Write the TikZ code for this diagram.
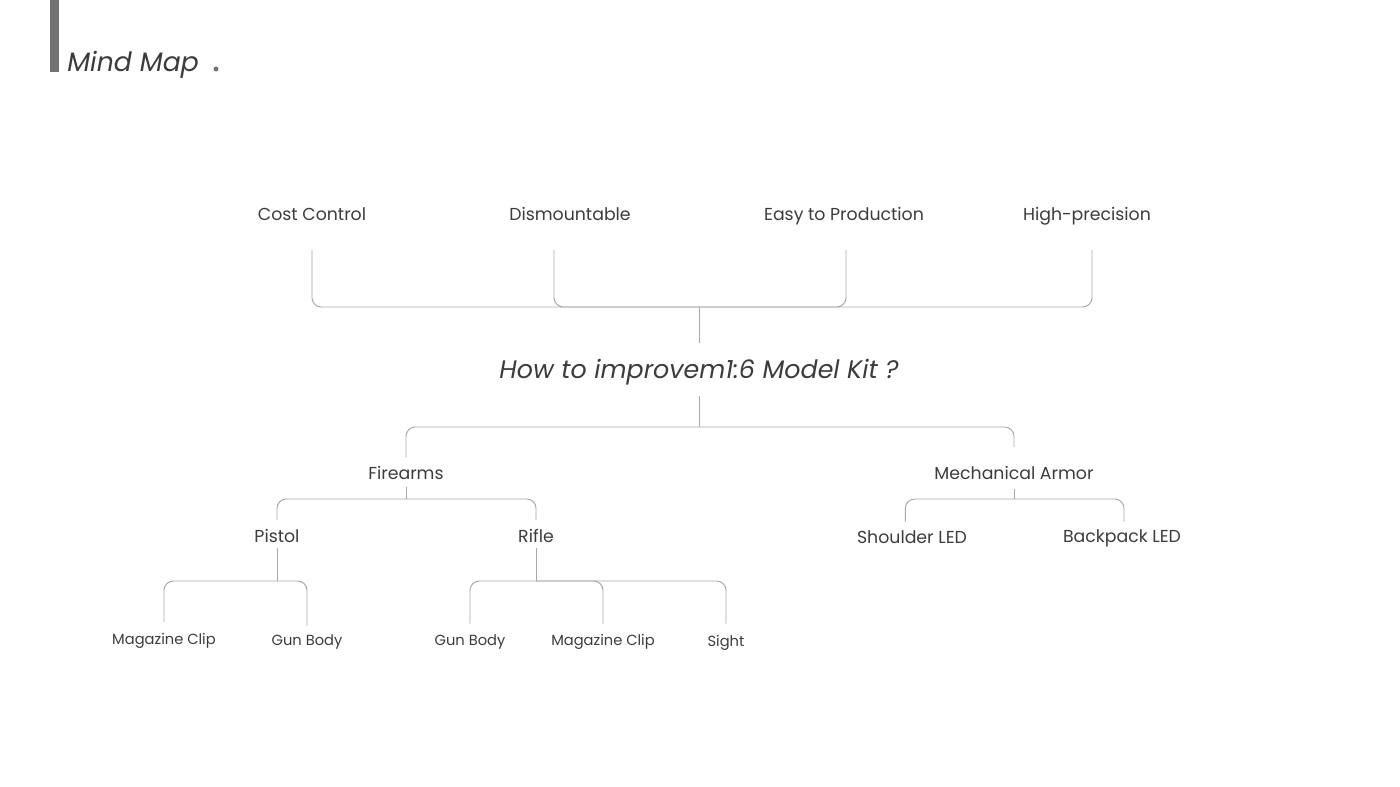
\documentclass[tikz,border=0pt]{standalone}
\usepackage{fontspec}
\setmainfont{Poppins}
\usepackage{tikz}
\usetikzlibrary{positioning}
\definecolor{txtgray}{HTML}{3C3C3C}
\definecolor{linegray}{HTML}{A8A8A8}
\definecolor{bargray}{HTML}{727272}
\tikzstyle{item} = [font=\fontsize{13}{15}\selectfont, text=txtgray, text height=12.25pt, text depth=0.75pt, inner sep=0pt]
\tikzstyle{leaf} = [item, font=\fontsize{11}{13}\selectfont, text height=11.25pt, text depth=0.75pt]
\tikzstyle{link} = [draw=linegray, line width=0.7pt, rounded corners=7pt]
\begin{document}
\begin{tikzpicture}[x=0.75pt, y=-0.75pt]
\useasboundingbox (0,0) rectangle (1400,787);
\fill[bargray] (50,0) rectangle (59,72);
\node[anchor=base west, inner sep=0pt, text=txtgray, font=\fontsize{20}{24}\selectfont\itshape] (title) at (67,72) {Mind Map};
\fill[bargray] (216,69) circle (2.5);

\node[item] (top_1) at (312,213) {Cost Control};
\node[item] (top_2) at (570,213) {Dismountable};
\node[item] (top_3) at (844,213) {Easy to Production};
\node[item] (top_4) at (1087,213) {High-precision};

\node[item, font=\fontsize{19}{22}\selectfont\itshape, text height=16.25pt, text depth=1.75pt] (root) at (699,369) {How to improvem1:6 Model Kit ?};

\node[item] (fire) at (406,472) {Firearms};
\node[item] (mech) at (1014,472) {Mechanical Armor};
\node[item] (pistol) at (277,535) {Pistol};
\node[item] (rifle) at (536,535) {Rifle};
\node[item] (shoulder) at (912,536) {Shoulder LED};
\node[item] (backpack) at (1122,535) {Backpack LED};

\node[leaf] (p_1) at (164,637) {Magazine Clip};
\node[leaf] (p_2) at (307,638) {Gun Body};
\node[leaf] (r_1) at (470,638) {Gun Body};
\node[leaf] (r_2) at (603,638) {Magazine Clip};
\node[leaf] (r_3) at (726,640) {Sight};

\coordinate (bar_1) at (699,307);
\coordinate (bar_2) at (699,427);
\coordinate (bar_3) at (406,499);
\coordinate (bar_4) at (1014,499);
\coordinate (bar_5) at (277,581);
\coordinate (bar_6) at (536,581);

\draw[link] ([yshift=-21pt]top_1.south) |- (bar_1);
\draw[link] ([yshift=-21pt]top_2.south) ++(-16,0) |- (bar_1);
\draw[link] ([yshift=-21pt]top_3.south) ++(2,0) |- (bar_1);
\draw[link] ([yshift=-21pt]top_4.south) ++(5,0) |- (bar_1);
\draw[link] (bar_1) -- ([yshift=10.5pt]root.north);

\draw[link] ([yshift=-11pt]root.south) -- (bar_2);
\draw[link] (bar_2) -| ([yshift=4pt]fire.north);
\draw[link] (bar_2) -| ([yshift=12pt]mech.north);

\draw[link] ([yshift=-4.5pt]fire.south) -- (bar_3);
\draw[link] (bar_3) -| ([yshift=4.5pt]pistol.north);
\draw[link] (bar_3) -| ([yshift=4.5pt]rifle.north);
\draw[link] ([yshift=-6pt]mech.south) -- (bar_4);
\draw[link] (bar_4) -| ([xshift=-5pt, yshift=4pt]shoulder.north);
\draw[link] (bar_4) -| ([xshift=1.5pt, yshift=3pt]backpack.north);

\draw[link] ([yshift=-3pt]pistol.south) -- (bar_5);
\draw[link] (bar_5) -| ([yshift=5pt]p_1.north);
\draw[link] (bar_5) -| ([yshift=3pt]p_2.north);
\draw[link] ([yshift=-3pt]rifle.south) -- (bar_6);
\draw[link] (bar_6) -| ([yshift=4.5pt]r_1.north);
\draw[link] (bar_6) -| ([yshift=4.5pt]r_2.north);
\draw[link] (bar_6) -| ([yshift=6pt]r_3.north);
\end{tikzpicture}
\end{document}
